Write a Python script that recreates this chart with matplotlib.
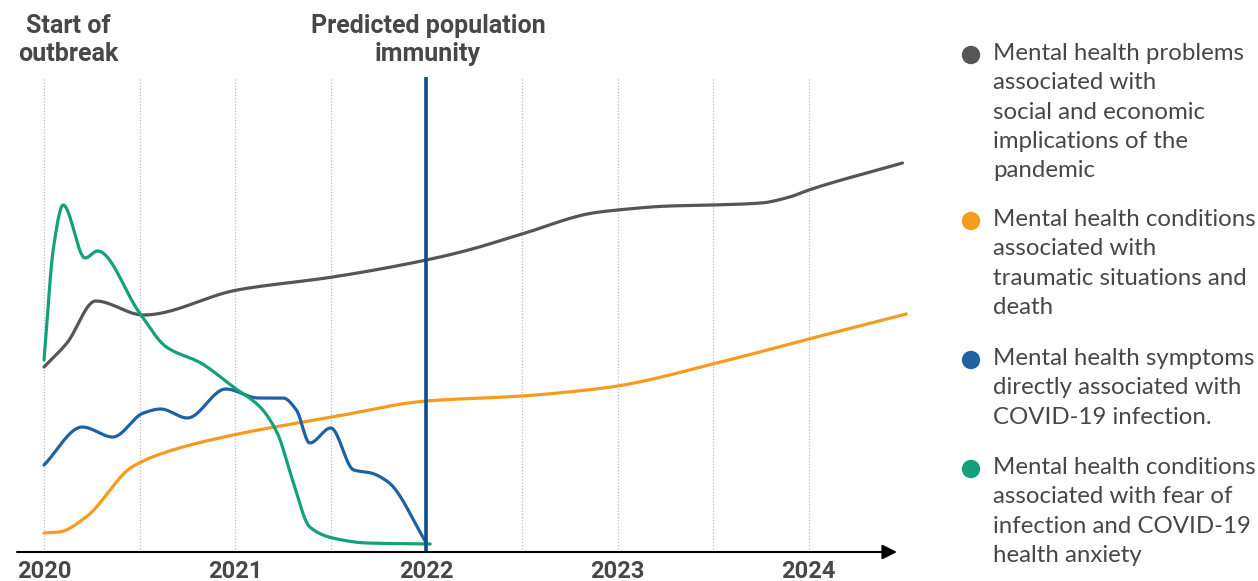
import numpy as np
import matplotlib
matplotlib.use("Agg")
import matplotlib.pyplot as plt

# ---------------- data ----------------
grey_x = [2020.0, 2020.12, 2020.27, 2020.52, 2021.01, 2021.51, 2022.0, 2022.22,
          2022.5, 2022.87, 2023.0, 2023.27, 2023.5, 2023.75, 2023.9, 2024.0, 2024.49]
grey_y = [185, 209, 251, 237, 262, 275, 292, 302, 318, 339, 342, 346, 347, 349, 355, 362, 389]

orange_x = [2020.0, 2020.08, 2020.22, 2020.46, 2020.64, 2020.99, 2021.51, 2022.0, 2022.5,
            2022.84, 2023.0, 2023.5, 2024.0, 2024.51]
orange_y = [19, 20, 35, 85, 100, 117, 135, 151, 156, 162, 166, 188, 213, 238]

blue_x = [2020.0, 2020.2, 2020.36, 2020.52, 2020.61, 2020.75, 2020.95, 2021.12, 2021.25,
          2021.32, 2021.39, 2021.5, 2021.62, 2021.71, 2021.8, 2022.0]
blue_y = [87, 125, 115, 139, 143, 134, 163, 154, 154, 142, 109, 124, 82, 79, 70, 9]

green_x = [2020.0, 2020.05, 2020.1, 2020.215, 2020.28, 2020.5, 2020.64, 2020.82, 2020.99,
           2021.13, 2021.22, 2021.30, 2021.39, 2021.51, 2021.69, 2022.02]
green_y = [192, 305, 347, 294, 301, 239, 205, 189, 165, 145, 119, 72, 25, 14, 9, 8]

year_ticks = [2020, 2021, 2022, 2023, 2024]
grid_years = [2020, 2020.5, 2021, 2021.5, 2022, 2022.5, 2023, 2023.5, 2024]
immunity_year = 2022

labels = [
    "Mental health problems\nassociated with\nsocial and economic\nimplications of the\npandemic",
    "Mental health conditions\nassociated with\ntraumatic situations and\ndeath",
    "Mental health symptoms\ndirectly associated with\nCOVID-19 infection.",
    "Mental health conditions\nassociated with fear of\ninfection and COVID-19\nhealth anxiety",
]
colors = ["#555555", "#F59B1E", "#1E62A4", "#13A17C"]
series = [(grey_x, grey_y), (orange_x, orange_y), (blue_x, blue_y), (green_x, green_y)]


def pchip(x, y, xs):
    x = np.asarray(x, float)
    y = np.asarray(y, float)
    h = np.diff(x)
    d = np.diff(y) / h
    n = len(x)
    m = np.zeros(n)
    for k in range(1, n - 1):
        if d[k - 1] * d[k] <= 0:
            m[k] = 0
        else:
            w1 = 2 * h[k] + h[k - 1]
            w2 = h[k] + 2 * h[k - 1]
            m[k] = (w1 + w2) / (w1 / d[k - 1] + w2 / d[k])
    m[0] = d[0]
    m[-1] = d[-1]
    idx = np.clip(np.searchsorted(x, xs) - 1, 0, n - 2)
    t = (xs - x[idx]) / h[idx]
    h00 = 2 * t**3 - 3 * t**2 + 1
    h10 = t**3 - 2 * t**2 + t
    h01 = -2 * t**3 + 3 * t**2
    h11 = t**3 - t**2
    return h00 * y[idx] + h10 * h[idx] * m[idx] + h01 * y[idx + 1] + h11 * h[idx] * m[idx + 1]


W, H = 1258, 581
fig = plt.figure(figsize=(W / 100, H / 100), dpi=100)

# axes in pixel layout
ax_left_px, ax_right_px = 17, 912
ax_bottom_px, ax_top_px = 552, 62
ax = fig.add_axes([ax_left_px / W, 1 - ax_bottom_px / H,
                   (ax_right_px - ax_left_px) / W, (ax_bottom_px - ax_top_px) / H])
px_per_year = 191.2
x0 = 2020 - (44 - ax_left_px) / px_per_year
x1 = 2020 + (ax_right_px - 44) / px_per_year
ax.set_xlim(x0, x1)
ax.set_ylim(0, ax_bottom_px - ax_top_px)
ax.axis("off")

grid_top = ax_bottom_px - 77
ax.vlines(grid_years, 0, grid_top, colors="#bbbbbb", linewidth=0.9,
          linestyles=(0, (1, 1.5)), zorder=1)

for (xs, ys), c in zip(series, colors):
    xx = np.linspace(xs[0], xs[-1], 600)
    ax.plot(xx, pchip(xs, ys, xx), color=c, lw=2.3, solid_capstyle="round", zorder=3)

ax.vlines([immunity_year], 0, grid_top, colors="#0D4E8A", linewidth=2.6, zorder=4)

# x axis with arrow
arrow_tip = 2020 + (897 - 44) / px_per_year
ax.annotate("", xy=(arrow_tip, 0), xytext=(x0, 0),
            arrowprops=dict(arrowstyle="-|>", color="black", lw=1.5,
                            mutation_scale=22, shrinkA=0, shrinkB=0), zorder=5)

txt_col = "#474747"
for yr in year_ticks:
    ax.text(yr, -19, str(yr), ha="center", va="center", fontsize=17,
            fontweight="bold", family="Roboto", color=txt_col)

# headings
fig.text(68 / W, 1 - 40 / H, "Start of\noutbreak", ha="center", va="center",
         fontsize=18, fontweight="bold", family="Roboto", color=txt_col,
         linespacing=1.25)
fig.text(428 / W, 1 - 40 / H, "Predicted population\nimmunity", ha="center", va="center",
         fontsize=18, fontweight="bold", family="Roboto", color=txt_col,
         linespacing=1.25)

# legend
leg_top = [43, 209, 348, 457]
leg_dot = [55, 221, 360, 469]
for lab, c, top, dot in zip(labels, colors, leg_top, leg_dot):
    fig.text(993 / W, 1 - top / H, lab, ha="left", va="top", fontsize=17.3,
             family="Lato", color=txt_col, linespacing=1.49)
    fig.patches.append(matplotlib.patches.Circle(
        (971, H - dot), 8.5, transform=None, color=c, figure=fig))

fig.savefig("out.png", dpi=100, facecolor="white")
